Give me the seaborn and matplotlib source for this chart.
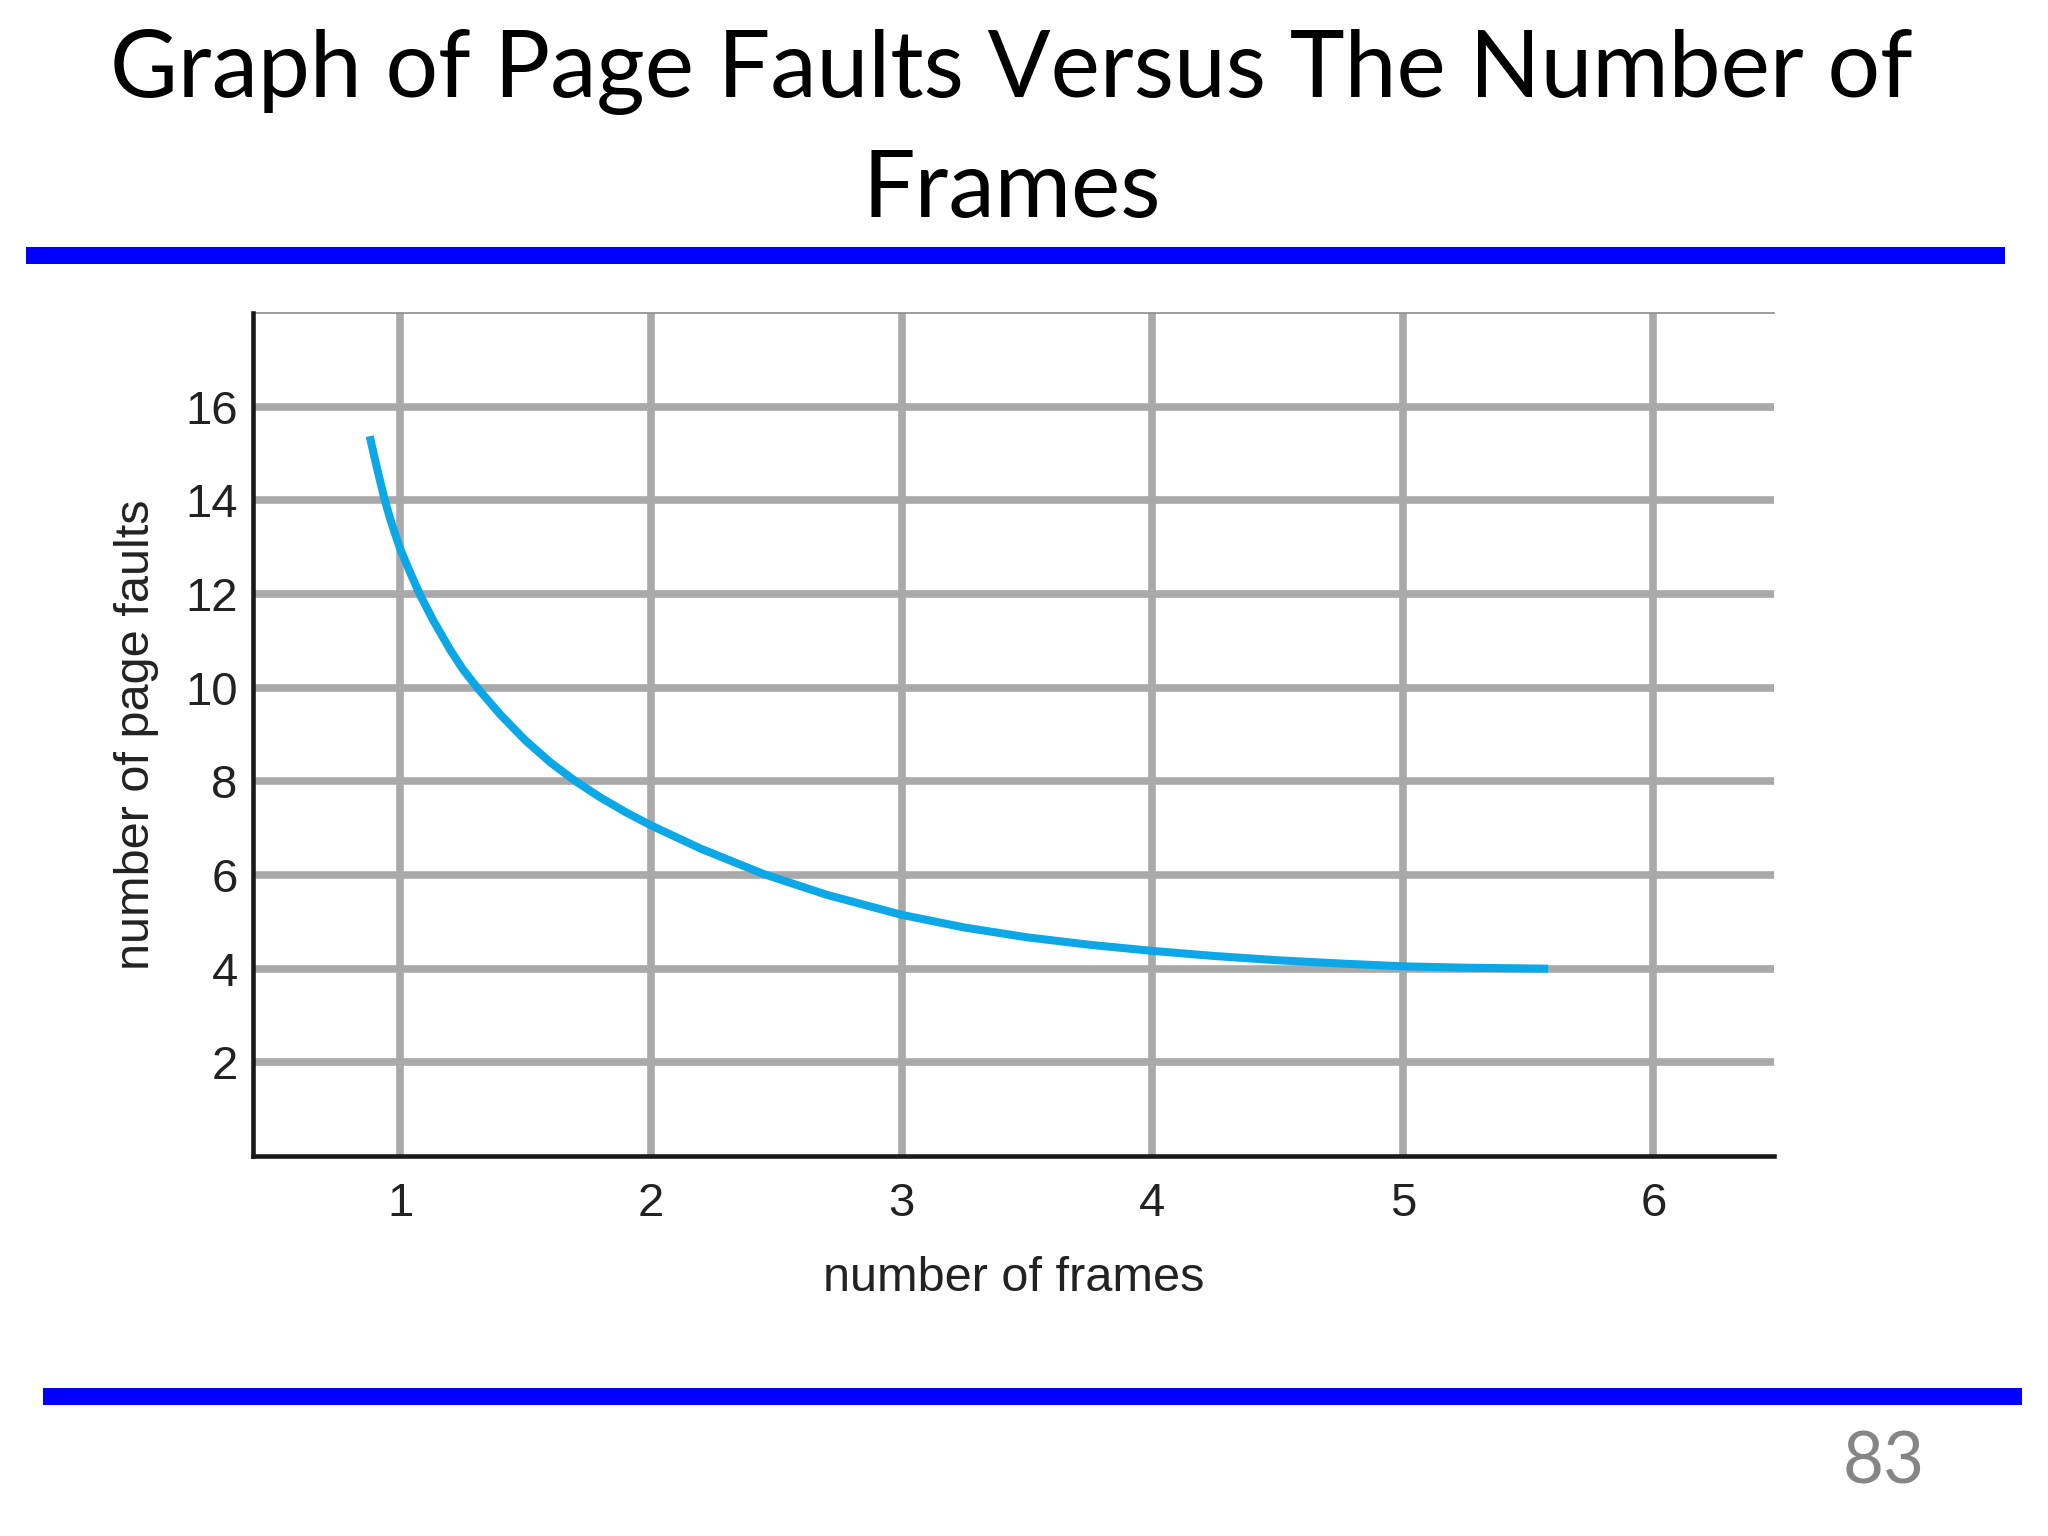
import matplotlib
matplotlib.use("Agg")
import matplotlib.pyplot as plt
import seaborn as sns
from matplotlib.patches import Rectangle

# curve
frames = [0.878, 0.90, 0.92, 0.9375, 0.96, 0.98, 1.0, 1.04, 1.08, 1.13, 1.2, 1.25,
          1.31, 1.4, 1.5, 1.6, 1.7, 1.8, 1.9, 2.0, 2.2, 2.45, 2.7, 3.0, 3.25, 3.5,
          3.75, 4.0, 4.25, 4.5, 4.75, 5.0, 5.25, 5.58]
faults = [15.37, 14.85, 14.40, 14.02, 13.60, 13.27, 12.96, 12.45, 11.97, 11.45, 10.8,
          10.39, 9.98, 9.42, 8.87, 8.40, 8.0, 7.65, 7.34, 7.06, 6.56, 6.02, 5.58,
          5.15, 4.88, 4.67, 4.51, 4.38, 4.27, 4.18, 4.11, 4.05, 4.02, 4.0]

x_ticks = [1, 2, 3, 4, 5, 6]
y_ticks = [2, 4, 6, 8, 10, 12, 14, 16]

title_line1 = "Graph of Page Faults Versus The Number of"
title_line2 = "Frames"
page_number = "83"

sns.set_style("white")
plt.rcParams["font.family"] = ["Liberation Sans", "DejaVu Sans"]

fig = plt.figure(figsize=(20.48, 15.36), dpi=100, facecolor="white")
ax = fig.add_axes([0.1235, 0.2474, 0.7427, 0.5488])
ax.set_facecolor("white")

# grid first, then the curve on top
for xv in x_ticks:
    ax.axvline(xv, color="#a9a9a9", lw=5.5, zorder=1)
for yv in y_ticks:
    ax.axhline(yv, color="#a9a9a9", lw=5.5, zorder=1)

sns.lineplot(x=frames, y=faults, ax=ax, color="#0ba7e6", linewidth=5.8,
             sort=False, estimator=None, zorder=3)
ax.lines[-1].set_solid_capstyle("butt")
ax.lines[-1].set_solid_joinstyle("round")

ax.set_xlim(0.412, 6.481)
ax.set_ylim(0, 18)
ax.set_xticks(x_ticks)
ax.set_yticks(y_ticks)
ax.set_xticklabels([str(v) for v in x_ticks])
ax.set_yticklabels([str(v) for v in y_ticks])

ax.tick_params(axis="both", direction="in", length=15, width=2.4, color="#1a1a1a",
               labelsize=34, labelcolor="#222222")
ax.tick_params(axis="x", pad=19)
ax.tick_params(axis="y", pad=11)
ax.grid(False)

for side in ["left", "bottom"]:
    ax.spines[side].set_linewidth(3.3)
    ax.spines[side].set_color("#1a1a1a")
    ax.spines[side].set_zorder(4)
ax.spines["top"].set_linewidth(1.2)
ax.spines["top"].set_color("#8c8c8c")
ax.spines["right"].set_visible(False)

ax.set_xlabel("number of frames", fontsize=35, color="#222222", labelpad=21)
ax.set_ylabel("number of page faults", fontsize=35, color="#222222", labelpad=19)

# slide decoration
fig.text(0.4939, 0.9368, title_line1, ha="center", va="baseline",
         fontsize=67, family=["Lato", "DejaVu Sans"], color="black")
fig.text(0.4939, 0.8590, title_line2, ha="center", va="baseline",
         fontsize=67, family=["Lato", "DejaVu Sans"], color="black")
fig.add_artist(Rectangle((26 / 2048, 1 - 264 / 1536), 1979 / 2048, 17 / 1536,
                         transform=fig.transFigure, color="#0000ff", lw=0))
fig.add_artist(Rectangle((43 / 2048, 1 - 1405 / 1536), 1979 / 2048, 17 / 1536,
                         transform=fig.transFigure, color="#0000ff", lw=0))
fig.text(0.9198, 0.0339, page_number, ha="center", va="baseline",
         fontsize=51, family=["Lato", "DejaVu Sans"], color="#858585")

fig.savefig("out.png", dpi=100, facecolor="white")
